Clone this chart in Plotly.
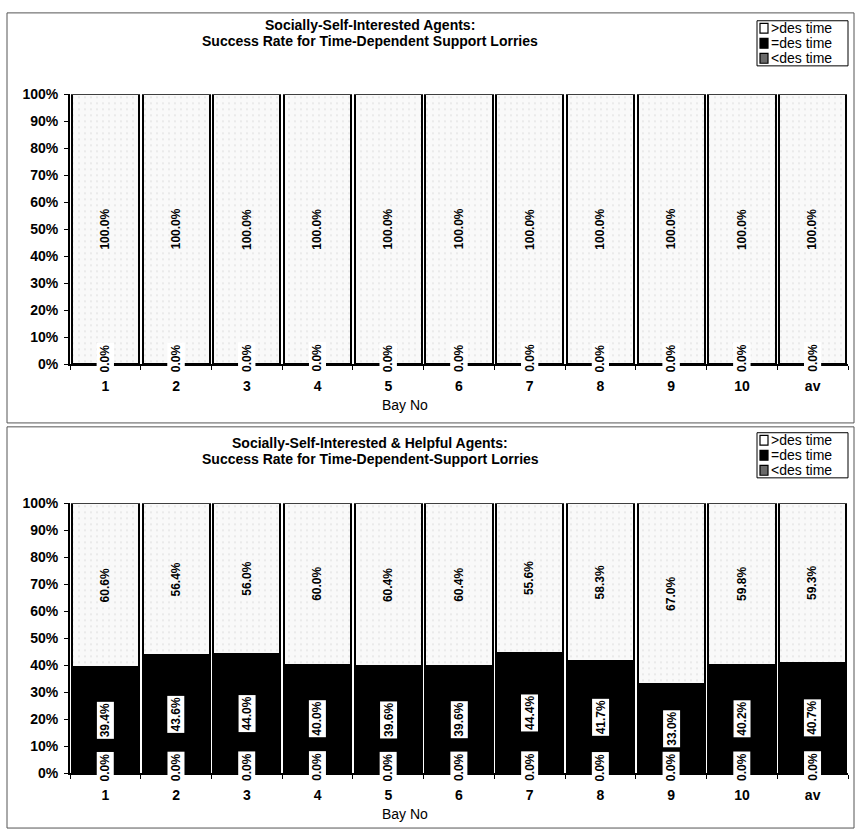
import plotly.graph_objects as go

# ---------------- data ----------------
categories = ["1", "2", "3", "4", "5", "6", "7", "8", "9", "10", "av"]
series_names = [">des time", "=des time", "<des time"]

top_gt = [100.0, 100.0, 100.0, 100.0, 100.0, 100.0, 100.0, 100.0, 100.0, 100.0, 100.0]
top_eq = [0.0, 0.0, 0.0, 0.0, 0.0, 0.0, 0.0, 0.0, 0.0, 0.0, 0.0]
top_lt = [0.0, 0.0, 0.0, 0.0, 0.0, 0.0, 0.0, 0.0, 0.0, 0.0, 0.0]

bot_gt = [60.6, 56.4, 56.0, 60.0, 60.4, 60.4, 55.6, 58.3, 67.0, 59.8, 59.3]
bot_eq = [39.4, 43.6, 44.0, 40.0, 39.6, 39.6, 44.4, 41.7, 33.0, 40.2, 40.7]
bot_lt = [0.0, 0.0, 0.0, 0.0, 0.0, 0.0, 0.0, 0.0, 0.0, 0.0, 0.0]

top_title = ["Socially-Self-Interested Agents:", "Success Rate for Time-Dependent Support Lorries"]
bot_title = ["Socially-Self-Interested & Helpful Agents:", "Success Rate for Time-Dependent-Support Lorries"]
x_title = "Bay No"

# ---------------- layout helpers ----------------
W, H = 857, 838
FONT = "Liberation Sans, Arial, sans-serif"


def px(x):
    return x / W


def py(y):
    return 1 - y / H


panels = [
    dict(lt=top_lt, eq=top_eq, gt=top_gt, title=top_title, xa="x", ya="y",
         frame=(5, 423), plot=(88, 363), title_y=(17, 34), leg=(13, 59), xt_y=405),
    dict(lt=bot_lt, eq=bot_eq, gt=bot_gt, title=bot_title, xa="x2", ya="y2",
         frame=(427, 836), plot=(505, 780), title_y=(443, 460), leg=(433, 479), xt_y=822),
]

styles = {
    "<des time": dict(color="#6a6a6a", pattern=dict(shape=".", fgcolor="#111111", bgcolor="#9a9a9a",
                                                    size=3, solidity=0.45), line=dict(color="black", width=1.5)),
    "=des time": dict(color="black", line=dict(color="black", width=2)),
    ">des time": dict(color="#f6f6f6", pattern=dict(shape=".", fgcolor="#cfcfcf", bgcolor="#f9f9f9",
                                                    size=6, solidity=0.08), line=dict(color="black", width=2)),
}
legend_fill = {">des time": "white", "=des time": "black", "<des time": "#6a6a6a"}

fig = go.Figure()
annotations = []
shapes = []

for p in panels:
    vals = {"<des time": p["lt"], "=des time": p["eq"], ">des time": p["gt"]}
    order = ["<des time", "=des time", ">des time"]
    for name in order:
        fig.add_trace(go.Bar(
            x=categories, y=vals[name], name=name, xaxis=p["xa"], yaxis=p["ya"],
            marker=styles[name], showlegend=False, hoverinfo="skip",
        ))
    # value labels
    base = [0.0] * len(categories)
    for name in order:
        v = vals[name]
        for i in range(len(categories)):
            boxed = name != ">des time"
            annotations.append(dict(
                x=i, y=base[i] + v[i] / 2, xref=p["xa"], yref=p["ya"],
                text="<b>%.1f%%</b>" % v[i], showarrow=False, textangle=-90,
                font=dict(family=FONT, size=12, color="black"),
                bgcolor="white" if boxed else None, borderpad=1,
                yshift=6 if v[i] == 0 else 0,
            ))
            base[i] += v[i]
    # titles
    for k, line in enumerate(p["title"]):
        annotations.append(dict(
            x=px(370), y=py(p["title_y"][k]), xref="paper", yref="paper", text="<b>%s</b>" % line,
            showarrow=False, xanchor="center", yanchor="middle",
            font=dict(family=FONT, size=14, color="black")))
    # axis title
    annotations.append(dict(
        x=px(405), y=py(p["xt_y"]), xref="paper", yref="paper", text=x_title, showarrow=False,
        xanchor="center", yanchor="middle", font=dict(family=FONT, size=14, color="black")))
    # frame
    shapes.append(dict(type="rect", xref="paper", yref="paper", x0=px(7), x1=px(854),
                       y0=py(p["frame"][1]), y1=py(p["frame"][0]),
                       line=dict(color="#555555", width=1)))
    # manual legend (compact, like the original)
    l_top, l_bot = p["leg"]
    shapes.append(dict(type="rect", xref="paper", yref="paper", x0=px(757), x1=px(848),
                       y0=py(l_bot), y1=py(l_top), line=dict(color="black", width=1),
                       fillcolor="white"))
    row_h = (l_bot - l_top) / 3.0
    for k, name in enumerate(series_names):
        cy = l_top + row_h * (k + 0.5)
        shapes.append(dict(type="rect", xref="paper", yref="paper", x0=px(760), x1=px(768),
                           y0=py(cy + 5), y1=py(cy - 5), line=dict(color="black", width=1.2),
                           fillcolor=legend_fill[name]))
        annotations.append(dict(x=px(769), y=py(cy), xref="paper", yref="paper", text=name,
                                showarrow=False, xanchor="left", yanchor="middle",
                                font=dict(family=FONT, size=14, color="black")))

axis_common = dict(showline=True, linecolor="black", linewidth=2, ticks="outside", ticklen=4,
                   tickcolor="black", tickwidth=1, showgrid=False, zeroline=False,
                   tickfont=dict(family=FONT, size=14, color="black", weight="bold"))

dom_x = [px(70), px(848)]
layout = dict(
    width=W, height=H, margin=dict(l=0, r=0, t=0, b=0),
    paper_bgcolor="white", plot_bgcolor="white",
    barmode="stack", bargap=0.05, showlegend=False,
    font=dict(family=FONT, color="black"),
    annotations=annotations, shapes=shapes,
)
for p, suffix in zip(panels, ["", "2"]):
    layout["xaxis" + suffix] = dict(axis_common, type="category", domain=dom_x,
                                    anchor="y" + suffix, tickson="boundaries",
                                    range=[-0.5, len(categories) - 0.5], ticklabelstandoff=8)
    layout["yaxis" + suffix] = dict(axis_common, domain=[py(p["plot"][1]), py(p["plot"][0])],
                                    anchor="x" + suffix, range=[0, 100], dtick=10, ticksuffix="%",
                                    ticklabelstandoff=3)

fig.update_layout(**layout)
fig.write_html("out.html")
